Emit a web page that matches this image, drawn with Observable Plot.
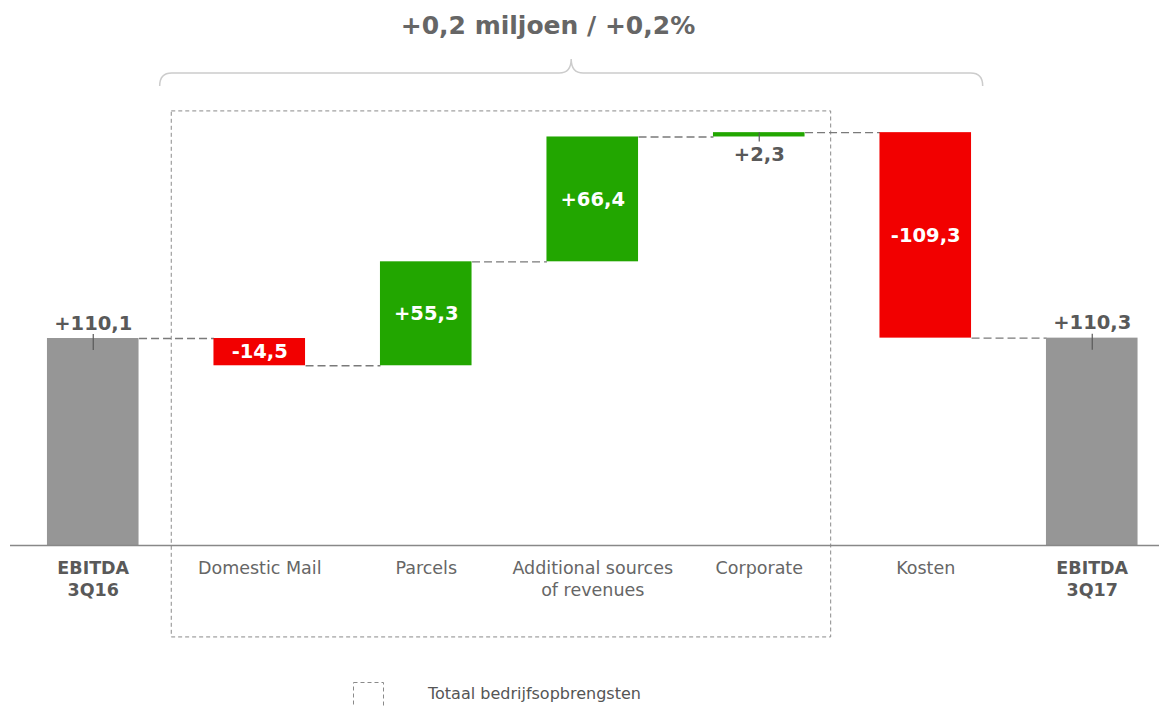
<!DOCTYPE html>
<html><head><meta charset="utf-8">
<script src="https://cdn.jsdelivr.net/npm/d3@7"></script>
<script src="https://cdn.jsdelivr.net/npm/@observablehq/plot@0.6"></script>
<style>
body{margin:0;background:#fff;font-family:"DejaVu Sans",Verdana,sans-serif}
#chart svg{display:block}
</style>
</head><body><div id="chart"></div>
<script>
// ---- data ----
const categories = ["EBITDA 3Q16","Domestic Mail","Parcels","Additional sources of revenues","Corporate","Kosten","EBITDA 3Q17"];
const categoryLines = ["EBITDA\n3Q16","Domestic Mail","Parcels","Additional sources\nof revenues","Corporate","Kosten","EBITDA\n3Q17"];
const values = [110.1, -14.5, 55.3, 66.4, 2.3, -109.3, 110.3];
const kinds = ["total","delta","delta","delta","delta","delta","total"];
const valueLabels = ["+110,1","-14,5","+55,3","+66,4","+2,3","-109,3","+110,3"];
const title = "+0,2 miljoen / +0,2%";
const legendLabel = "Totaal bedrijfsopbrengsten";

// ---- derived ----
let run = 0;
const rows = categories.map((c, i) => {
  let start, end;
  if (kinds[i] === "total") { start = 0; end = values[i]; }
  else { start = run; end = run + values[i]; }
  run = end;
  return {i, category: c, label: categoryLines[i], value: values[i], kind: kinds[i], start, end, text: valueLabels[i]};
});
const HW = 0.275;
const colorOf = r => r.kind === "total" ? "#969696" : (r.value < 0 ? "#f20000" : "#22a600");
const connectors = rows.slice(0, -1).map((r, k) => ({x1: r.i + HW, x2: rows[k + 1].i - HW, y: r.end}));
const inside = rows.filter(r => r.kind === "delta" && Math.abs(r.value) > 5);
const above = rows.filter(r => r.kind === "total");
const below = rows.filter(r => r.kind === "delta" && Math.abs(r.value) <= 5);
const boldCats = rows.filter(r => r.kind === "total");
const normCats = rows.filter(r => r.kind !== "total");
const boxRegion = [{x1: 0.4715, x2: 4.432, y1: -48.9, y2: 230.9}];

const chart = Plot.plot({
  width: 1159, height: 706,
  marginLeft: 10, marginRight: 0, marginTop: 0, marginBottom: 0,
  style: {fontFamily: '"DejaVu Sans", Verdana, sans-serif', background: "#fff"},
  x: {type: "linear", domain: [-0.5, 6.5], range: [9.5, 1175], axis: null},
  y: {type: "linear", domain: [0, 100], range: [545, 357], axis: null},
  marks: [
    Plot.rect(boxRegion, {x1: "x1", x2: "x2", y1: "y1", y2: "y2", fill: "none", stroke: "#8a8a8a", strokeWidth: 1, strokeDasharray: "4,3"}),
    Plot.link(connectors, {x1: "x1", x2: "x2", y1: "y", y2: "y", stroke: "#7a7a7a", strokeWidth: 1.3, strokeDasharray: "8,4"}),
    Plot.rect(rows, {x1: d => d.i - HW, x2: d => d.i + HW, y1: "start", y2: "end", fill: colorOf}),
    Plot.ruleY([0], {stroke: "#888", strokeWidth: 1.5}),
    Plot.text(inside, {x: "i", y: d => (d.start + d.end) / 2, text: "text", fill: "#fff", fontWeight: "bold", fontSize: 19.5}),
    Plot.ruleX(above, {x: "i", y1: d => d.end + 2.1, y2: d => d.end - 6.4, stroke: "#595959", strokeWidth: 1.2}),
    Plot.text(above, {x: "i", y: "end", dy: -15, text: "text", fill: "#595959", fontWeight: "bold", fontSize: 19.5}),
    Plot.ruleX(below, {x: "i", y1: "end", y2: d => d.end - 5, stroke: "#595959", strokeWidth: 1.2}),
    Plot.text(below, {x: "i", y: "end", dy: 22, text: "text", fill: "#595959", fontWeight: "bold", fontSize: 19.5}),
    Plot.text(normCats, {x: "i", y: 0, dy: 12, lineAnchor: "top", lineHeight: 1.3, text: "label", fill: "#666", fontSize: 17.5}),
    Plot.text(boldCats, {x: "i", y: 0, dy: 12, lineAnchor: "top", lineHeight: 1.3, text: "label", fill: "#595959", fontWeight: "bold", fontSize: 17.5})
  ]
});

document.getElementById("chart").appendChild(chart);

// ---- decorations: title, brace, legend ----
const svg = d3.select(chart);
const xs = chart.scale("x");
const bx0 = xs.apply(0.402), bx1 = xs.apply(5.345), bm = (bx0 + bx1) / 2;
const by = 73, r = 12;
svg.append("path")
  .attr("d", `M${bx0},${by + 13} Q${bx0},${by} ${bx0 + r},${by} L${bm - r},${by} Q${bm},${by} ${bm},${by - 14} Q${bm},${by} ${bm + r},${by} L${bx1 - r},${by} Q${bx1},${by} ${bx1},${by + 13}`)
  .attr("fill", "none").attr("stroke", "#cccccc").attr("stroke-width", 1.5);
svg.append("text").attr("x", xs.apply(2.734)).attr("y", 25).attr("dy", "0.35em")
  .attr("text-anchor", "middle").attr("font-size", 25).attr("font-weight", "bold").attr("fill", "#666")
  .text(title);
svg.append("rect").attr("x", 353.5).attr("y", 682.5).attr("width", 30).attr("height", 30)
  .attr("fill", "none").attr("stroke", "#8a8a8a").attr("stroke-dasharray", "4,3");
svg.append("text").attr("x", 428).attr("y", 693).attr("dy", "0.35em")
  .attr("text-anchor", "start").attr("font-size", 16).attr("fill", "#555").text(legendLabel);
</script>
</body></html>
